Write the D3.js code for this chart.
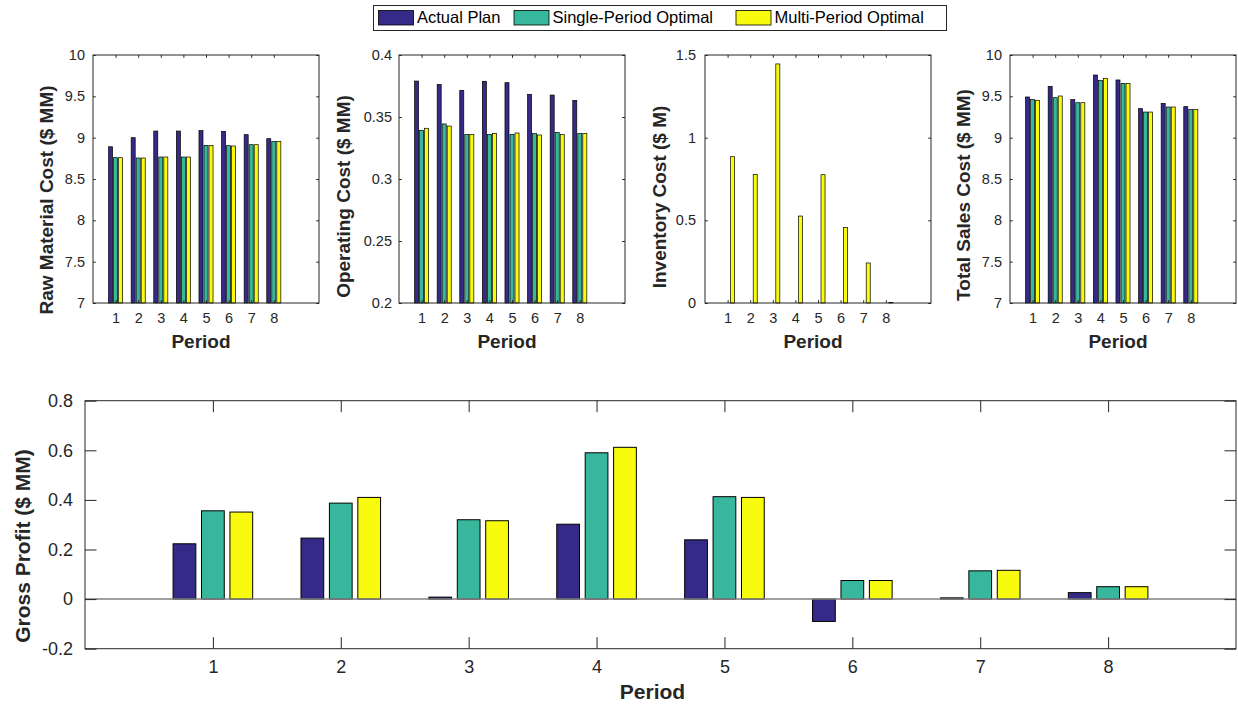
<!DOCTYPE html>
<html><head><meta charset="utf-8">
<script src="https://cdn.jsdelivr.net/npm/d3@7"></script>
<style>body{margin:0;background:#fff} svg{display:block}</style>
</head><body>
<svg id="chart" width="1238" height="705"></svg>
<script>
const periods = [1,2,3,4,5,6,7,8];
const seriesNames = ["Actual Plan","Single-Period Optimal","Multi-Period Optimal"];
const seriesColors = ["#352a87","#37b89d","#f9fb0e"];

const rawMaterialActual = [8.89,9.00,9.08,9.08,9.085,9.077,9.036,8.988];
const rawMaterialSingle = [8.758,8.754,8.766,8.766,8.907,8.903,8.915,8.952];
const rawMaterialMulti  = [8.758,8.754,8.766,8.766,8.907,8.899,8.915,8.952];

const operatingActual = [0.379,0.3763,0.3715,0.3788,0.3777,0.3683,0.3677,0.3634];
const operatingSingle = [0.3392,0.3444,0.3358,0.336,0.336,0.3366,0.3376,0.3366];
const operatingMulti  = [0.3409,0.3427,0.3358,0.3368,0.3371,0.3355,0.3358,0.3366];

const inventoryActual = [0,0,0,0,0,0,0,0];
const inventorySingle = [0,0,0,0,0,0,0,0];
const inventoryMulti  = [0.885,0.778,1.446,0.526,0.776,0.456,0.242,0.004];

const totalSalesActual = [9.492,9.621,9.46,9.758,9.698,9.351,9.415,9.375];
const totalSalesSingle = [9.46,9.484,9.423,9.694,9.657,9.31,9.371,9.339];
const totalSalesMulti  = [9.452,9.504,9.423,9.718,9.657,9.31,9.371,9.339];

const grossProfitActual = [0.223,0.246,0.008,0.302,0.239,-0.09,0.005,0.026];
const grossProfitSingle = [0.356,0.387,0.32,0.59,0.413,0.075,0.114,0.05];
const grossProfitMulti  = [0.351,0.41,0.316,0.612,0.41,0.075,0.116,0.05];

const rawTicks = [7,7.5,8,8.5,9,9.5,10];
const operatingTicks = [0.2,0.25,0.3,0.35,0.4];
const inventoryTicks = [0,0.5,1,1.5];
const totalSalesTicks = [7,7.5,8,8.5,9,9.5,10];
const grossProfitTicks = [-0.2,0,0.2,0.4,0.6,0.8];

const FONT = "'Liberation Sans', Arial, Helvetica, sans-serif";
const AXC = "#262626";
const svg = d3.select("#chart");

const topW = 226, topH = 248, topY = 55;
const panels = [
  {left:93, top:topY, width:topW, height:topH, xDomain:[0,10], yDomain:[7,10], ticks:rawTicks,
   series:[rawMaterialActual,rawMaterialSingle,rawMaterialMulti], label:"Raw Material Cost ($ MM)",
   ylab:[46,200], tickLen:2.8, tickFs:14.5, labFs:19, xTickBase:20, xLabBase:348, padL:8},
  {left:399, top:topY, width:topW, height:topH, xDomain:[0,10], yDomain:[0.2,0.4], ticks:operatingTicks,
   series:[operatingActual,operatingSingle,operatingMulti], label:"Operating Cost ($ MM)",
   ylab:[343,196.5], tickLen:2.8, tickFs:14.5, labFs:19, xTickBase:20, xLabBase:348, padL:7},
  {left:705, top:topY, width:topW, height:topH, xDomain:[0,10], yDomain:[0,1.5], ticks:inventoryTicks,
   series:[inventoryActual,inventorySingle,inventoryMulti], label:"Inventory Cost ($ M)",
   ylab:[659,197], tickLen:2.8, tickFs:14.5, labFs:19, xTickBase:20, xLabBase:348, padL:9},
  {left:1010, top:topY, width:topW, height:topH, xDomain:[0,10], yDomain:[7,10], ticks:totalSalesTicks,
   series:[totalSalesActual,totalSalesSingle,totalSalesMulti], label:"Total Sales Cost ($ MM)",
   ylab:[963,195], tickLen:2.8, tickFs:14.5, labFs:19, xTickBase:20, xLabBase:348, padL:8},
  {left:85, top:400.7, width:1151, height:248, xDomain:[0,9], yDomain:[-0.2,0.8], ticks:grossProfitTicks,
   series:[grossProfitActual,grossProfitSingle,grossProfitMulti], label:"Gross Profit ($ MM)",
   ylab:[22.5,546], tickLen:11.5, tickFs:18, labFs:21, xTickBase:24.5, xLabBase:699, padL:12, baseline:true, xLabOffset:-8}
];

function drawPanel(p){
  const g = svg.append("g").attr("transform",`translate(${p.left},${p.top})`);
  const x = d3.scaleLinear().domain(p.xDomain).range([0,p.width]);
  const y = d3.scaleLinear().domain(p.yDomain).range([p.height,0]);
  const groupWidth = Math.min(0.8, 3/(3+1.5));
  const slot = groupWidth/3;
  const barW = slot*0.8;
  const base = Math.max(p.yDomain[0], 0);
  const pxW = x(barW) - x(0);

  p.series.forEach((vals,i)=>{
    g.append("g").selectAll("rect").data(vals).join("rect")
      .attr("x",(v,j)=> x(periods[j] + (i-1)*slot) - pxW/2)
      .attr("width",pxW)
      .attr("y",v=> Math.min(y(v), y(base)))
      .attr("height",v=> Math.abs(y(v)-y(base)))
      .attr("fill",seriesColors[i])
      .attr("stroke","#000")
      .attr("stroke-width",p.baseline?1:0.7);
  });

  if(p.baseline){
    g.append("line").attr("x1",0).attr("x2",p.width).attr("y1",y(0)).attr("y2",y(0))
      .attr("stroke","#808080").attr("stroke-width",1.5);
  }

  const fmt = d => String(d);
  const L = p.tickLen;
  const axB = g.append("g").attr("transform",`translate(0,${p.height})`)
    .call(d3.axisBottom(x).tickValues(periods).tickFormat(fmt).tickSizeInner(-L).tickSizeOuter(0)
      .tickPadding(p.xTickBase - 0.71*p.tickFs));
  const axT = g.append("g")
    .call(d3.axisTop(x).tickValues(periods).tickFormat("").tickSizeInner(-L).tickSizeOuter(0));
  const axL = g.append("g")
    .call(d3.axisLeft(y).tickValues(p.ticks).tickFormat(fmt).tickSizeInner(-L).tickSizeOuter(0).tickPadding(p.padL));
  const axR = g.append("g").attr("transform",`translate(${p.width},0)`)
    .call(d3.axisRight(y).tickValues(p.ticks).tickFormat("").tickSizeInner(-L).tickSizeOuter(0));
  [axB,axT,axL,axR].forEach(a=>{
    a.select(".domain").remove();
    a.selectAll(".tick line").attr("stroke",AXC).attr("stroke-width",1);
    a.selectAll("text").attr("fill",AXC).style("font-family",FONT).style("font-size",p.tickFs+"px");
  });
  g.append("rect").attr("x",0).attr("y",0).attr("width",p.width).attr("height",p.height)
    .attr("fill","none").attr("stroke",AXC).attr("stroke-width",1);

  svg.append("text").attr("x",p.left + p.width/2 + (p.xLabOffset ?? -5)).attr("y",p.xLabBase)
    .attr("text-anchor","middle").attr("fill",AXC)
    .style("font-family",FONT).style("font-weight","bold").style("font-size",p.labFs+"px")
    .text("Period");
  svg.append("text").attr("transform",`translate(${p.ylab[0]},${p.ylab[1]}) rotate(-90)`)
    .attr("text-anchor","middle").attr("dominant-baseline","central").attr("fill",AXC)
    .style("font-family",FONT).style("font-weight","bold").style("font-size",p.labFs+"px")
    .text(p.label);
}
panels.forEach(drawPanel);

// legend
const leg = svg.append("g");
leg.append("rect").attr("x",373.5).attr("y",5.5).attr("width",573).attr("height",25)
  .attr("fill","#fff").attr("stroke",AXC).attr("stroke-width",1);
const legPatchX = [378.5, 514, 736];
seriesNames.forEach((name,i)=>{
  leg.append("rect").attr("x",legPatchX[i]).attr("y",10.5).attr("width",35).attr("height",14.5)
    .attr("fill",seriesColors[i]).attr("stroke","#000").attr("stroke-width",0.8);
  leg.append("text").attr("x",legPatchX[i]+38.5).attr("y",23).attr("fill","#000")
    .style("font-family",FONT).style("font-size","16.5px").text(name);
});
</script>
</body></html>
